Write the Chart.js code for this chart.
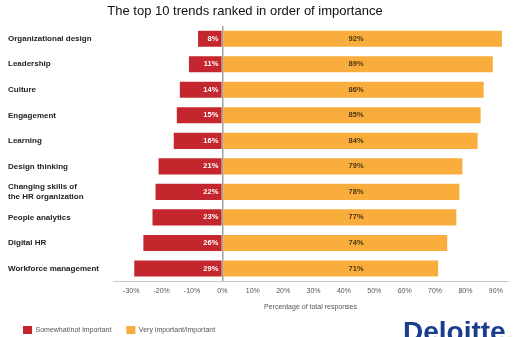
<!DOCTYPE html>
<html>
<head>
<meta charset="utf-8">
<script src="https://cdn.jsdelivr.net/npm/chart.js@4.4.1/dist/chart.umd.min.js"></script>
<style>
  html, body { margin: 0; padding: 0; background: #fff; }
  #wrap { position: relative; width: 519px; height: 337px; overflow: hidden; }
  #title { position: absolute; left: 0; top: 3px; width: 490px; text-align: center;
           font: 13px "Liberation Sans", Arial, sans-serif; color: #111; }
  #logo { position: absolute; left: 403px; top: 316px; line-height: 28px;
          font: bold 28px "Liberation Sans", Arial, sans-serif; color: #1b3d8c; white-space: nowrap; }
  #logo span { color: #86bc25; }
</style>
</head>
<body>
<div id="wrap">
  <canvas id="trendChart" width="519" height="337"></canvas>
  <div id="title">The top 10 trends ranked in order of importance</div>
  <div id="logo">Deloitte<span>.</span></div>
</div>
<script>
var trends = ["Organizational design", "Leadership", "Culture", "Engagement", "Learning",
  "Design thinking", ["Changing skills of", "the HR organization"], "People analytics",
  "Digital HR", "Workforce management"];
var notImportant = [8, 11, 14, 15, 16, 21, 22, 23, 26, 29];
var important = [92, 89, 86, 85, 84, 79, 78, 77, 74, 71];
var xTicks = [-30, -20, -10, 0, 10, 20, 30, 40, 50, 60, 70, 80, 90];

var red = '#c4262e';
var orange = '#f9ad3c';

// value labels inside the bars
var barLabels = {
  id: 'barLabels',
  afterDatasetsDraw: function (chart) {
    var ctx = chart.ctx;
    var x = chart.scales.x;
    var y = chart.scales.y;
    ctx.save();
    ctx.font = 'bold 7.5px "Liberation Sans", Arial, sans-serif';
    ctx.textBaseline = 'middle';
    for (var i = 0; i < trends.length; i++) {
      var cy = y.getPixelForValue(i);
      ctx.fillStyle = '#fff';
      ctx.textAlign = 'right';
      ctx.fillText(notImportant[i] + '%', x.getPixelForValue(0) - 4, cy);
      ctx.fillStyle = '#4a3410';
      ctx.textAlign = 'center';
      ctx.fillText(important[i] + '%', x.getPixelForValue(44), cy);
    }
    ctx.restore();
  }
};

new Chart(document.getElementById('trendChart'), {
  type: 'bar',
  data: {
    labels: trends,
    datasets: [{
      label: 'Somewhat/not important',
      data: notImportant.map(function (v) { return -v; }),
      backgroundColor: red
    }, {
      label: 'Very important/important',
      data: important,
      backgroundColor: orange
    }]
  },
  options: {
    indexAxis: 'y',
    responsive: false,
    animation: false,
    layout: { padding: { left: 8, right: 11, top: 26, bottom: -7 } },
    datasets: { bar: { categoryPercentage: 1, barPercentage: 0.63 } },
    scales: {
      x: {
        type: 'linear',
        stacked: true,
        min: -36,
        max: 94,
        z: 1,
        afterBuildTicks: function (scale) {
          scale.ticks = xTicks.map(function (v) { return { value: v }; });
        },
        grid: {
          drawTicks: false,
          lineWidth: 1.5,
          color: function (c) { return c.tick && c.tick.value === 0 ? '#a0a0a0' : 'rgba(0,0,0,0)'; }
        },
        border: { display: true, color: '#c8c8c8' },
        ticks: {
          padding: 6,
          color: '#555',
          font: { family: '"Liberation Sans", Arial, sans-serif', size: 7 },
          callback: function (v) { return v + '%'; }
        },
        title: {
          display: true,
          text: 'Percentage of total responses',
          color: '#555',
          font: { family: '"Liberation Sans", Arial, sans-serif', size: 7 },
          padding: { top: 1, bottom: 0 }
        }
      },
      y: {
        stacked: true,
        grid: { display: false },
        border: { display: false },
        afterFit: function (scale) { scale.width = 105; },
        ticks: {
          crossAlign: 'far',
          padding: 0,
          color: '#222',
          font: { family: '"Liberation Sans", Arial, sans-serif', size: 8, weight: 'bold' }
        }
      }
    },
    plugins: {
      legend: {
        position: 'bottom',
        align: 'start',
        labels: {
          boxWidth: 9,
          boxHeight: 8,
          padding: 15,
          color: '#555',
          font: { family: '"Liberation Sans", Arial, sans-serif', size: 7 }
        }
      },
      tooltip: { enabled: false }
    }
  },
  plugins: [barLabels]
});
</script>
</body>
</html>
